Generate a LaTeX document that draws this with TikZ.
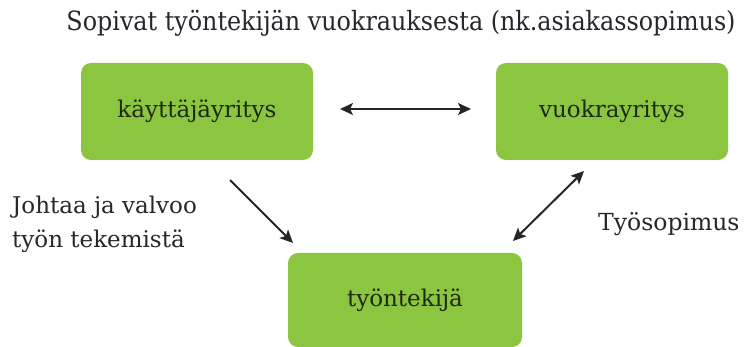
\documentclass[tikz,border=0pt]{standalone}
\usepackage{fontspec}
\setmainfont{DejaVu Serif}
\newfontfamily\condserif{DejaVu Serif Condensed}
\usetikzlibrary{arrows.meta}
\definecolor{boxgreen}{HTML}{8CC540}
\definecolor{boxtext}{HTML}{1E2A10}
\definecolor{labeltext}{HTML}{26262C}
\tikzset{
  greenbox/.style={draw=none, fill=boxgreen, rounded corners=10pt, text=boxtext,
    font=\fontsize{23}{26}\selectfont, inner sep=0pt},
  lbl/.style={text=labeltext, inner sep=0pt},
  conn/.style={line width=2pt, draw=black!85, -{Stealth[length=13pt,width=12pt,inset=3pt]}},
  dconn/.style={line width=2pt, draw=black!85, {Stealth[length=13pt,width=12pt,inset=3pt]}-{Stealth[length=13pt,width=12pt,inset=3pt]}}
}
\begin{document}
\begin{tikzpicture}[x=1pt,y=-1pt]
\useasboundingbox (0,0) rectangle (744,347);
\node[lbl, font=\condserif\fontsize{26.5}{30}\selectfont, anchor=center] (title) at (401,23) {Sopivat työntekijän vuokrauksesta (nk.asiakassopimus)};
\node[greenbox, minimum width=232pt, minimum height=97pt] (kay) at (197,111.5) {käyttäjäyritys};
\node[greenbox, minimum width=232pt, minimum height=97pt] (vuo) at (612,111.5) {vuokrayritys};
\node[greenbox, minimum width=234pt, minimum height=94pt] (tyo) at (405,300) {työntekijä};
\coordinate (h1) at (340,109);
\coordinate (h2) at (471,109);
\draw[dconn] (h1) -- (h2);
\coordinate (d1) at (230,180);
\coordinate (d2) at (293,243);
\draw[conn] (d1) -- (d2);
\coordinate (r1) at (584,171);
\coordinate (r2) at (513,241);
\draw[dconn] (r1) -- (r2);
\node[lbl, font=\fontsize{23}{30}\selectfont, align=left, anchor=west] (johtaa) at (12,224) {Johtaa ja valvoo\\[4pt]työn tekemistä};
\node[lbl, font=\fontsize{23.5}{26}\selectfont, anchor=west] (tyos) at (598,224) {Työsopimus};
\end{tikzpicture}
\end{document}
